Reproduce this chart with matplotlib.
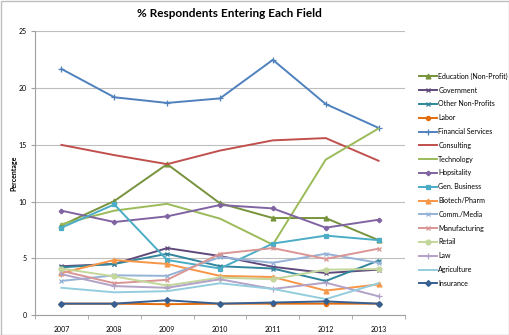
import numpy as np
import matplotlib.pyplot as plt
from matplotlib.patches import Rectangle

plt.rcParams['font.family'] = ['Lato', 'DejaVu Sans']

years = ['2007', '2008', '2009', '2010', '2011', '2012', '2013']

# series values (% of respondents)
education     = [7.9, 10.05, 13.3, 9.85, 8.55, 8.55, 6.6]
government    = [4.3, 4.5, 5.9, 5.2, 4.25, 3.7, 4.0]
other_np      = [4.2, 4.5, 5.4, 4.3, 4.1, 3.0, 4.8]
labor         = [1.0, 1.0, 0.95, 1.0, 1.0, 1.0, 1.0]
financial     = [21.7, 19.2, 18.7, 19.1, 22.5, 18.6, 16.5]
consulting    = [15.0, 14.1, 13.3, 14.5, 15.4, 15.6, 13.6]
technology    = [8.0, 9.2, 9.8, 8.5, 6.2, 13.7, 16.45]
hospitality   = [9.2, 8.2, 8.7, 9.7, 9.4, 7.7, 8.4]
gen_business  = [7.7, 9.75, 4.85, 4.1, 6.3, 7.0, 6.6]
biotech       = [3.7, 4.85, 4.5, 3.45, 3.35, 2.15, 2.7]
comm_media    = [3.0, 3.5, 3.45, 5.1, 4.6, 5.4, 4.6]
manufacturing = [3.9, 2.8, 3.1, 5.4, 5.9, 4.95, 5.85]
retail        = [4.1, 3.4, 2.6, 3.3, 3.15, 4.0, 4.05]
law           = [3.6, 2.55, 2.4, 3.15, 2.3, 2.85, 1.65]
agriculture   = [2.4, 2.0, 2.1, 2.8, 2.3, 1.4, 2.8]
insurance     = [1.0, 1.0, 1.3, 1.0, 1.1, 1.2, 1.0]

series = [
    ('Education (Non-Profit)', education, '#77933C', '^', 3.5),
    ('Government', government, '#604A7B', 'x', 3.5),
    ('Other Non-Profits', other_np, '#31859C', 'x', 3.5),
    ('Labor', labor, '#E46C0A', 'o', 3),
    ('Financial Services', financial, '#4F81BD', '+', 4),
    ('Consulting', consulting, '#C0504D', None, 0),
    ('Technology', technology, '#9BBB59', None, 0),
    ('Hopsitality', hospitality, '#8064A2', 'P', 3),
    ('Gen. Business', gen_business, '#4BACC6', 's', 3.5),
    ('Biotech/Pharm', biotech, '#F79646', '^', 3.5),
    ('Comm./Media', comm_media, '#95B3D7', 'x', 3.5),
    ('Manufacturing', manufacturing, '#D99694', 'x', 3.5),
    ('Retail', retail, '#C3D69B', 'o', 3.5),
    ('Law', law, '#B3A2C7', '+', 4),
    ('Agriculture', agriculture, '#93CDDD', None, 0),
    ('Insurance', insurance, '#376092', 'D', 3),
]

fig = plt.figure(figsize=(5.1, 3.35), dpi=100)
ax = fig.add_axes([0.0686, 0.0597, 0.7255, 0.8463])

x = np.arange(len(years))
for name, vals, col, mk, ms in series:
    ax.plot(x, vals, color=col, lw=1.4, marker=mk, markersize=ms,
            markeredgewidth=0.9, label=name)

ax.set_xlim(-0.5, len(years) - 0.5)
ax.set_ylim(0, 25)
ax.set_yticks(np.arange(0, 26, 5))
ax.set_xticks(x)
ax.set_xticklabels(years)
ax.set_xticks(np.arange(-0.5, len(years), 1), minor=True)
ax.tick_params(axis='x', which='major', length=0, labelsize=5, pad=8)
ax.tick_params(axis='x', which='minor', length=3, color='#A0A0A0')
ax.tick_params(axis='y', length=3, color='#A0A0A0', labelsize=5, pad=3)
ax.yaxis.grid(True, color='#BEBEBE', lw=0.8)
ax.set_axisbelow(True)
for s in ['top', 'right']:
    ax.spines[s].set_visible(False)
for s in ['left', 'bottom']:
    ax.spines[s].set_color('#A0A0A0')

ax.set_ylabel('Percentage', fontsize=5, fontweight='bold', labelpad=1)
fig.suptitle('% Respondents Entering Each Field', x=0.45, y=0.975,
             fontsize=8.5, fontweight='bold')

ax.legend(loc='upper left', bbox_to_anchor=(1.03, 0.865), frameon=False,
          fontsize=5, handlelength=2.6, labelspacing=0.98, handletextpad=0.2,
          borderaxespad=0)

fig.patches.append(Rectangle((0.001, 0.001), 0.997, 0.997, transform=fig.transFigure,
                             fill=False, edgecolor='#BEBEBE', lw=1))

fig.savefig('out.png', dpi=100)
